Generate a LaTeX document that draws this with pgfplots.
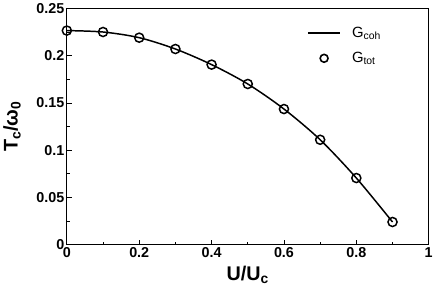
\documentclass[border=0pt]{standalone}
\usepackage{pgfplots}
\pgfplotsset{compat=1.18}
\usepackage{fontspec}
\setmainfont{Liberation Sans}
\begin{document}
\begin{tikzpicture}
\begin{axis}[
  scale only axis,
  width=366pt, height=239pt,
  xmin=0, xmax=1, ymin=0, ymax=0.25,
  xtick={0,0.2,0.4,0.6,0.8,1},
  ytick={0,0.05,0.1,0.15,0.2,0.25},
  minor x tick num=1, minor y tick num=1,
  tick align=inside,
  xtick pos=bottom, ytick pos=left,
  major tick length=5pt, minor tick length=3pt,
  tick style={black, line width=0.7pt},
  axis line style={line width=1pt},
  /pgf/number format/assume math mode=true,
  /pgf/number format/fixed,
  /pgf/number format/precision=2,
  ticklabel style={font=\fontsize{14.5}{16}\selectfont\bfseries},
  xticklabel style={yshift=1pt},
  yticklabel style={xshift=1pt},
  xlabel={\textbf{U/U\textsubscript{c}}},
  ylabel={\textbf{T\textsubscript{c}/ω\textsubscript{0}}},
  label style={font=\fontsize{20}{22}\selectfont},
  xlabel style={yshift=-2pt},
  ylabel style={at={(axis description cs:0,0.5)}, anchor=south, yshift=43pt},
  legend style={draw=none, fill=none, at={(0.655,0.94)}, anchor=north west,
    font=\fontsize{15}{17}\selectfont, row sep=10pt},
  legend cell align=left,
]
\addplot[black, line width=1.5pt, smooth, legend image code/.code={\draw[black,line width=1.8pt] (0cm,0cm) -- (1.15cm,0cm);}] coordinates {
  (0,0.2265)(0.1,0.2250)(0.2,0.2190)(0.3,0.2070)(0.4,0.1905)(0.5,0.1700)
  (0.6,0.1435)(0.7,0.1110)(0.8,0.0705)(0.9,0.0240)
};
\addlegendentry{\hspace*{9pt}G\textsubscript{coh}}
\addplot[only marks, mark=o, mark size=4.6pt, black, line width=1.5pt,
  legend image code/.code={\draw[black,line width=1.6pt] (0.575cm,0cm) circle (4pt);}] coordinates {
  (0,0.2265)(0.1,0.2250)(0.2,0.2190)(0.3,0.2070)(0.4,0.1905)(0.5,0.1700)
  (0.6,0.1435)(0.7,0.1110)(0.8,0.0705)(0.9,0.0240)
};
\addlegendentry{\hspace*{9pt}G\textsubscript{tot}}
\end{axis}
\end{tikzpicture}
\end{document}
